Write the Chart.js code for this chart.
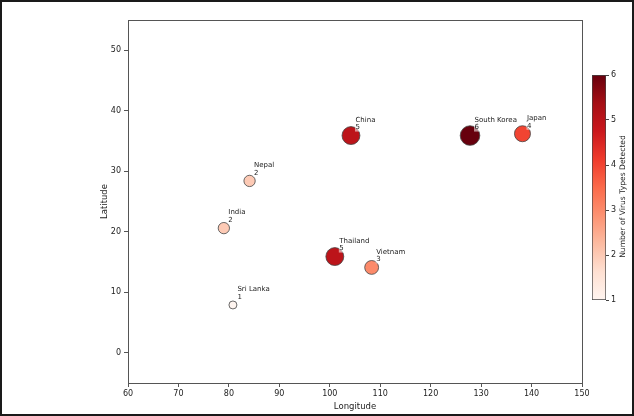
<!DOCTYPE html>
<html>
<head>
<meta charset="utf-8">
<script src="https://cdn.jsdelivr.net/npm/chart.js@4.4.1/dist/chart.umd.min.js"></script>
<style>
body{margin:0;background:#fff;}
#wrap{position:relative;width:634px;height:416px;}
#main{position:absolute;left:0;top:0;}
#cbar{position:absolute;left:584px;top:60px;}
#frame{position:absolute;left:0;top:0;width:634px;height:416px;box-sizing:border-box;border:2px solid #1a1a1a;pointer-events:none;}
</style>
</head>
<body>
<div id="wrap">
<canvas id="main" width="634" height="416"></canvas>
<canvas id="cbar" width="50" height="250"></canvas>
<div id="frame"></div>
</div>
<script>
// data
var countries = ["China", "South Korea", "Japan", "Nepal", "India", "Thailand", "Vietnam", "Sri Lanka"];
var longitudes = [104.2, 127.8, 138.2, 84.1, 79.0, 101.0, 108.3, 80.8];
var latitudes = [35.9, 35.9, 36.2, 28.4, 20.6, 15.9, 14.1, 7.9];
var virusTypes = [5, 6, 4, 2, 2, 5, 3, 1];
var xTicks = [60, 70, 80, 90, 100, 110, 120, 130, 140, 150];
var yTicks = [0, 10, 20, 30, 40, 50];
var cbarTicks = [1, 2, 3, 4, 5, 6];

// matplotlib "Reds" colormap
var redsStops = ["#fff5f0", "#fee0d2", "#fcbba1", "#fc9272", "#fb6a4a", "#ef3b2c", "#cb181d", "#a50f15", "#67000d"];

function hexRgb(h){
	return [parseInt(h.substr(1,2),16), parseInt(h.substr(3,2),16), parseInt(h.substr(5,2),16)];
}
function reds(t){
	var p = t * (redsStops.length - 1);
	var i = Math.min(Math.floor(p), redsStops.length - 2);
	var f = p - i;
	var a = hexRgb(redsStops[i]), b = hexRgb(redsStops[i+1]);
	var c = a.map(function(v, k){ return Math.round(v + (b[k] - v) * f); });
	return "rgb(" + c.join(",") + ")";
}
var vMin = cbarTicks[0], vMax = cbarTicks[cbarTicks.length-1];
function colorFor(v){ return reds((v - vMin) / (vMax - vMin)); }

var font = "'DejaVu Sans', sans-serif";
Chart.defaults.font.family = font;
Chart.defaults.color = "#222";

var labelPlugin = {
	id: "countryLabels",
	afterDatasetsDraw: function(chart){
		var ctx = chart.ctx;
		var meta = chart.getDatasetMeta(0);
		ctx.save();
		ctx.font = "7px " + font;
		ctx.textBaseline = "middle";
		meta.data.forEach(function(pt, i){
			var x = pt.x + 4.5;
			var w = ctx.measureText(String(virusTypes[i])).width;
			ctx.fillStyle = "rgba(255,255,255,0.55)";
			ctx.fillRect(x - 0.5, pt.y - 12, w + 1, 8);
			ctx.fillStyle = "#222";
			ctx.fillText(countries[i], x, pt.y - 15.5);
			ctx.fillText(String(virusTypes[i]), x, pt.y - 8);
		});
		ctx.restore();
	}
};

var boxPlugin = {
	id: "box",
	afterDraw: function(chart){
		var a = chart.chartArea, ctx = chart.ctx;
		ctx.save();
		ctx.strokeStyle = "#555";
		ctx.lineWidth = 1;
		ctx.strokeRect(Math.round(a.left) + 0.5, Math.round(a.top) + 0.5, Math.round(a.right - a.left), Math.round(a.bottom - a.top));
		ctx.restore();
	}
};

new Chart(document.getElementById("main"), {
	type: "scatter",
	data: {
		datasets: [{
			data: countries.map(function(c, i){ return {x: longitudes[i], y: latitudes[i]}; }),
			backgroundColor: virusTypes.map(colorFor),
			borderColor: "#444",
			borderWidth: 0.8,
			pointRadius: virusTypes.map(function(v){ return 4 * Math.sqrt(v); }),
			pointHoverRadius: virusTypes.map(function(v){ return 4 * Math.sqrt(v); })
		}]
	},
	options: {
		responsive: false,
		animation: false,
		layout: {padding: {left: 98, right: 52, top: 20, bottom: 4}},
		plugins: {legend: {display: false}, tooltip: {enabled: false}},
		scales: {
			x: {
				type: "linear", min: 60, max: 150,
				afterBuildTicks: function(s){ s.ticks = xTicks.map(function(v){ return {value: v}; }); },
				afterFit: function(s){ s.height = 29; },
				ticks: {font: {size: 8}, padding: 2, color: "#222"},
				grid: {drawOnChartArea: false, tickLength: 4, color: "#555"},
				border: {color: "#555"},
				title: {display: true, text: "Longitude", font: {size: 8.5}, padding: {top: 1, bottom: 0}, color: "#222"}
			},
			y: {
				type: "linear", min: -5, max: 55,
				afterBuildTicks: function(s){ s.ticks = yTicks.map(function(v){ return {value: v}; }); },
				afterFit: function(s){ s.width = 30; },
				ticks: {font: {size: 8}, padding: 3, color: "#222"},
				grid: {drawOnChartArea: false, tickLength: 4, color: "#555"},
				border: {color: "#555"},
				title: {display: true, text: "Latitude", font: {size: 8.5}, padding: {top: 2, bottom: 0}, color: "#222"}
			}
		}
	},
	plugins: [labelPlugin, boxPlugin]
});

var cbarTitle = {
	id: "cbarTitle",
	afterDraw: function(chart){
		var a = chart.chartArea, ctx = chart.ctx;
		ctx.save();
		ctx.translate(39, (a.top + a.bottom) / 2 + 9);
		ctx.rotate(-Math.PI / 2);
		ctx.font = "7.6px " + font;
		ctx.fillStyle = "#222";
		ctx.textAlign = "center";
		ctx.textBaseline = "middle";
		ctx.fillText("Number of Virus Types Detected", 0, 0);
		ctx.restore();
	}
};

new Chart(document.getElementById("cbar"), {
	type: "bar",
	data: {
		labels: [""],
		datasets: [{
			data: [[vMin, vMax]],
			backgroundColor: function(c){
				var a = c.chart.chartArea;
				if (!a) return colorFor(3.5);
				var g = c.chart.ctx.createLinearGradient(0, a.bottom, 0, a.top);
				redsStops.forEach(function(col, i){ g.addColorStop(i / (redsStops.length - 1), col); });
				return g;
			},
			borderColor: "#444",
			borderWidth: 1,
			borderSkipped: false,
			barPercentage: 1,
			categoryPercentage: 1
		}]
	},
	options: {
		responsive: false,
		animation: false,
		layout: {padding: {left: 8, right: 0, top: 15, bottom: 10}},
		plugins: {legend: {display: false}, tooltip: {enabled: false}},
		scales: {
			x: {display: false},
			y: {
				position: "right", min: vMin, max: vMax,
				afterBuildTicks: function(s){ s.ticks = cbarTicks.map(function(v){ return {value: v}; }); },
				afterFit: function(s){ s.width = 28; },
				ticks: {font: {size: 8}, padding: 2, color: "#222"},
				grid: {drawOnChartArea: false, tickLength: 3, color: "#444"},
				border: {display: false}
			}
		}
	},
	plugins: [cbarTitle]
});
</script>
</body>
</html>
